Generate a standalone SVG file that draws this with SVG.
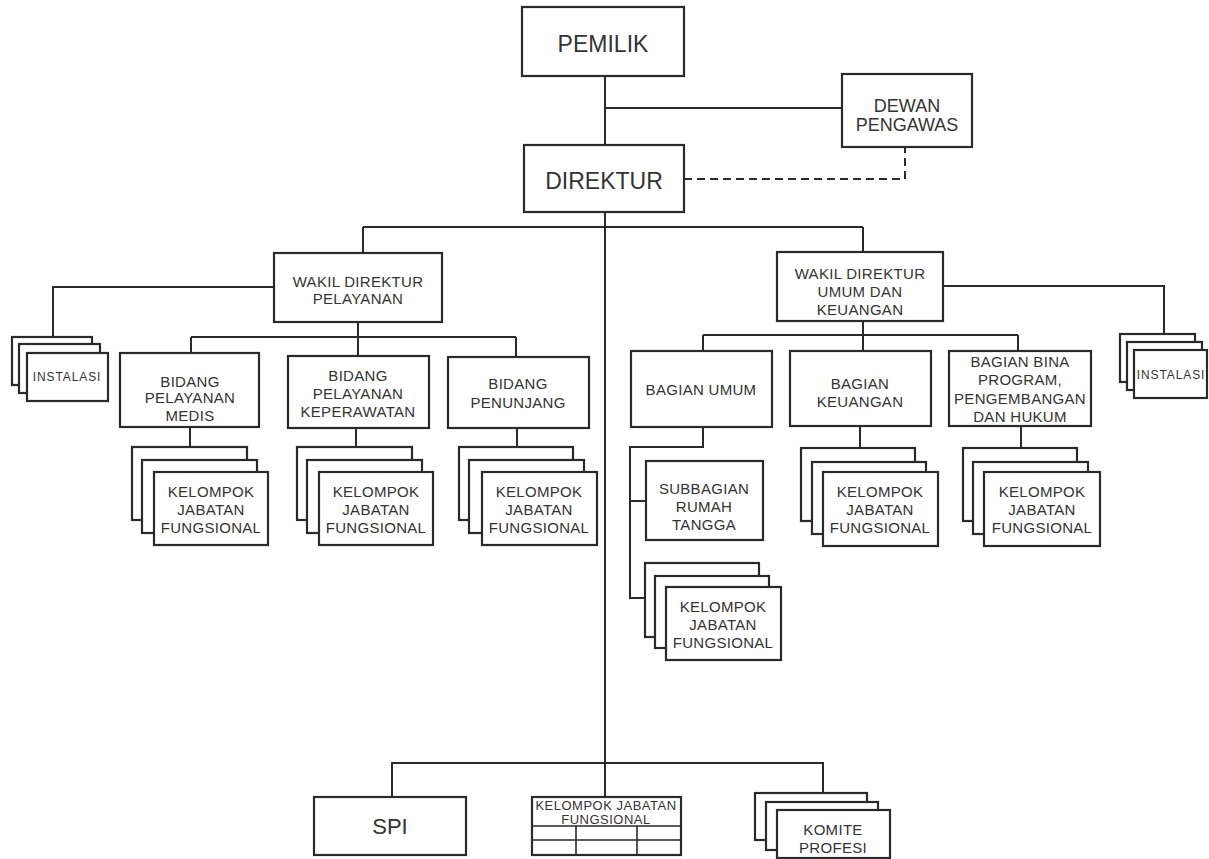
<svg xmlns="http://www.w3.org/2000/svg" width="1209" height="859" viewBox="0 0 1209 859">
<style>
.bx{fill:#fff;stroke:#2a2a2a;stroke-width:2.2}
.ln{fill:none;stroke:#2a2a2a;stroke-width:2}
.dash{fill:none;stroke:#2a2a2a;stroke-width:2;stroke-dasharray:8 5}
text{font-family:"Liberation Sans",Arial,sans-serif;fill:#333;text-anchor:middle}
.big{font-size:23px}
.md{font-size:18px}
.sm{font-size:15px;letter-spacing:0.3px}
.xs{font-size:12px;letter-spacing:0.9px}
.tb{font-size:13px;letter-spacing:0.5px}
</style>
<rect width="1209" height="859" fill="#fff"/>
<g id="connectors">
<path class="ln" d="M605,76V797M605,108H842M363,227H863M363,227V253M863,227V252"/>
<path class="dash" d="M684,179H905V147"/>
<path class="ln" d="M274,287H53V337M358,322V337M191,337H516M191,337V353M358,337V356M516,337V357"/>
<path class="ln" d="M190,427V447M356,428V447M517,428V447"/>
<path class="ln" d="M943,286H1164V334M863,321V351M703,335H1018M703,335V351M1018,335V351"/>
<path class="ln" d="M703,427V447H630V598H645M630,501H646M860,426V448M1021,426V448"/>
<path class="ln" d="M392,797V763H823V793"/>
</g>
<g id="pemilik"><rect class="bx" x="522" y="7" width="162" height="69"/><text class="big" x="603" y="52">PEMILIK</text></g>
<g id="dewan-pengawas"><rect class="bx" x="842" y="74" width="130" height="73"/><text class="md" x="907" y="112">DEWAN</text><text class="md" x="907" y="131">PENGAWAS</text></g>
<g id="direktur"><rect class="bx" x="524" y="145" width="160" height="67"/><text class="big" x="604" y="189">DIREKTUR</text></g>
<g id="wadir-pelayanan"><rect class="bx" x="274" y="253" width="168" height="69"/><text class="sm" x="358" y="287">WAKIL DIREKTUR</text><text class="sm" x="358" y="304">PELAYANAN</text></g>
<g id="wadir-umum"><rect class="bx" x="777" y="252" width="166" height="69"/><text class="sm" x="860" y="279">WAKIL DIREKTUR</text><text class="sm" x="860" y="297">UMUM DAN</text><text class="sm" x="860" y="315">KEUANGAN</text></g>
<g id="instalasi-kiri"><rect class="bx" x="12" y="337" width="80" height="48"/><rect class="bx" x="19" y="344" width="81" height="49"/><rect class="bx" x="27" y="353" width="81" height="48"/><text class="xs" x="67" y="381">INSTALASI</text></g>
<g id="instalasi-kanan"><rect class="bx" x="1120" y="334" width="75" height="48"/><rect class="bx" x="1127" y="342" width="75" height="48"/><rect class="bx" x="1134" y="350" width="73" height="48"/><text class="xs" x="1171" y="379">INSTALASI</text></g>
<g id="bidang-medis"><rect class="bx" x="120" y="353" width="139" height="74"/><text class="sm" x="190" y="387">BIDANG</text><text class="sm" x="190" y="403">PELAYANAN</text><text class="sm" x="190" y="421">MEDIS</text></g>
<g id="bidang-keperawatan"><rect class="bx" x="288" y="356" width="141" height="72"/><text class="sm" x="358" y="381">BIDANG</text><text class="sm" x="358" y="399">PELAYANAN</text><text class="sm" x="358" y="417">KEPERAWATAN</text></g>
<g id="bidang-penunjang"><rect class="bx" x="448" y="357" width="141" height="71"/><text class="sm" x="518" y="389">BIDANG</text><text class="sm" x="518" y="408">PENUNJANG</text></g>
<g id="bagian-umum"><rect class="bx" x="631" y="351" width="141" height="76"/><text class="sm" x="701" y="395">BAGIAN UMUM</text></g>
<g id="bagian-keuangan"><rect class="bx" x="790" y="351" width="141" height="75"/><text class="sm" x="860" y="389">BAGIAN</text><text class="sm" x="860" y="407">KEUANGAN</text></g>
<g id="bagian-bina"><rect class="bx" x="949" y="351" width="142" height="75"/><text class="sm" x="1020" y="367">BAGIAN BINA</text><text class="sm" x="1020" y="385">PROGRAM,</text><text class="sm" x="1020" y="404">PENGEMBANGAN</text><text class="sm" x="1020" y="422">DAN HUKUM</text></g>
<g id="subbagian-rt"><rect class="bx" x="646" y="461" width="117" height="79"/><text class="sm" x="704" y="494">SUBBAGIAN</text><text class="sm" x="704" y="512">RUMAH</text><text class="sm" x="704" y="530">TANGGA</text></g>
<g id="kjf-medis"><rect class="bx" x="132" y="447" width="115" height="73"/><rect class="bx" x="142" y="460" width="115" height="73"/><rect class="bx" x="154" y="472" width="114" height="73"/><text class="sm" x="211" y="497">KELOMPOK</text><text class="sm" x="211" y="515">JABATAN</text><text class="sm" x="211" y="533">FUNGSIONAL</text></g>
<g id="kjf-keperawatan"><rect class="bx" x="297" y="447" width="115" height="73"/><rect class="bx" x="307" y="460" width="115" height="73"/><rect class="bx" x="319" y="472" width="114" height="73"/><text class="sm" x="376" y="497">KELOMPOK</text><text class="sm" x="376" y="515">JABATAN</text><text class="sm" x="376" y="533">FUNGSIONAL</text></g>
<g id="kjf-penunjang"><rect class="bx" x="459" y="447" width="114" height="73"/><rect class="bx" x="469" y="460" width="115" height="73"/><rect class="bx" x="482" y="472" width="115" height="73"/><text class="sm" x="539" y="497">KELOMPOK</text><text class="sm" x="539" y="515">JABATAN</text><text class="sm" x="539" y="533">FUNGSIONAL</text></g>
<g id="kjf-rt"><rect class="bx" x="645" y="563" width="114" height="74"/><rect class="bx" x="655" y="576" width="114" height="72"/><rect class="bx" x="666" y="587" width="115" height="73"/><text class="sm" x="723" y="612">KELOMPOK</text><text class="sm" x="723" y="630">JABATAN</text><text class="sm" x="723" y="648">FUNGSIONAL</text></g>
<g id="kjf-keuangan"><rect class="bx" x="801" y="448" width="114" height="73"/><rect class="bx" x="812" y="462" width="114" height="72"/><rect class="bx" x="823" y="472" width="115" height="74"/><text class="sm" x="880" y="497">KELOMPOK</text><text class="sm" x="880" y="515">JABATAN</text><text class="sm" x="880" y="533">FUNGSIONAL</text></g>
<g id="kjf-bina"><rect class="bx" x="963" y="448" width="114" height="73"/><rect class="bx" x="973" y="462" width="115" height="72"/><rect class="bx" x="984" y="472" width="116" height="74"/><text class="sm" x="1042" y="497">KELOMPOK</text><text class="sm" x="1042" y="515">JABATAN</text><text class="sm" x="1042" y="533">FUNGSIONAL</text></g>
<g id="spi"><rect class="bx" x="314" y="797" width="152" height="58"/><text x="390" y="834" style="font-size:22px">SPI</text></g>
<g id="kjf-tabel"><rect class="bx" x="532" y="797" width="149" height="58"/><text class="tb" x="606" y="810">KELOMPOK JABATAN</text><text class="tb" x="606" y="824">FUNGSIONAL</text><path class="ln" style="stroke-width:1.6" d="M532,826H681M532,840H681M576,826V855M637,826V855"/></g>
<g id="komite-profesi"><rect class="bx" x="755" y="793" width="112" height="47"/><rect class="bx" x="766" y="802" width="112" height="48"/><rect class="bx" x="777" y="810" width="113" height="48"/><text class="sm" x="833" y="835">KOMITE</text><text class="sm" x="833" y="853">PROFESI</text></g>
</svg>
